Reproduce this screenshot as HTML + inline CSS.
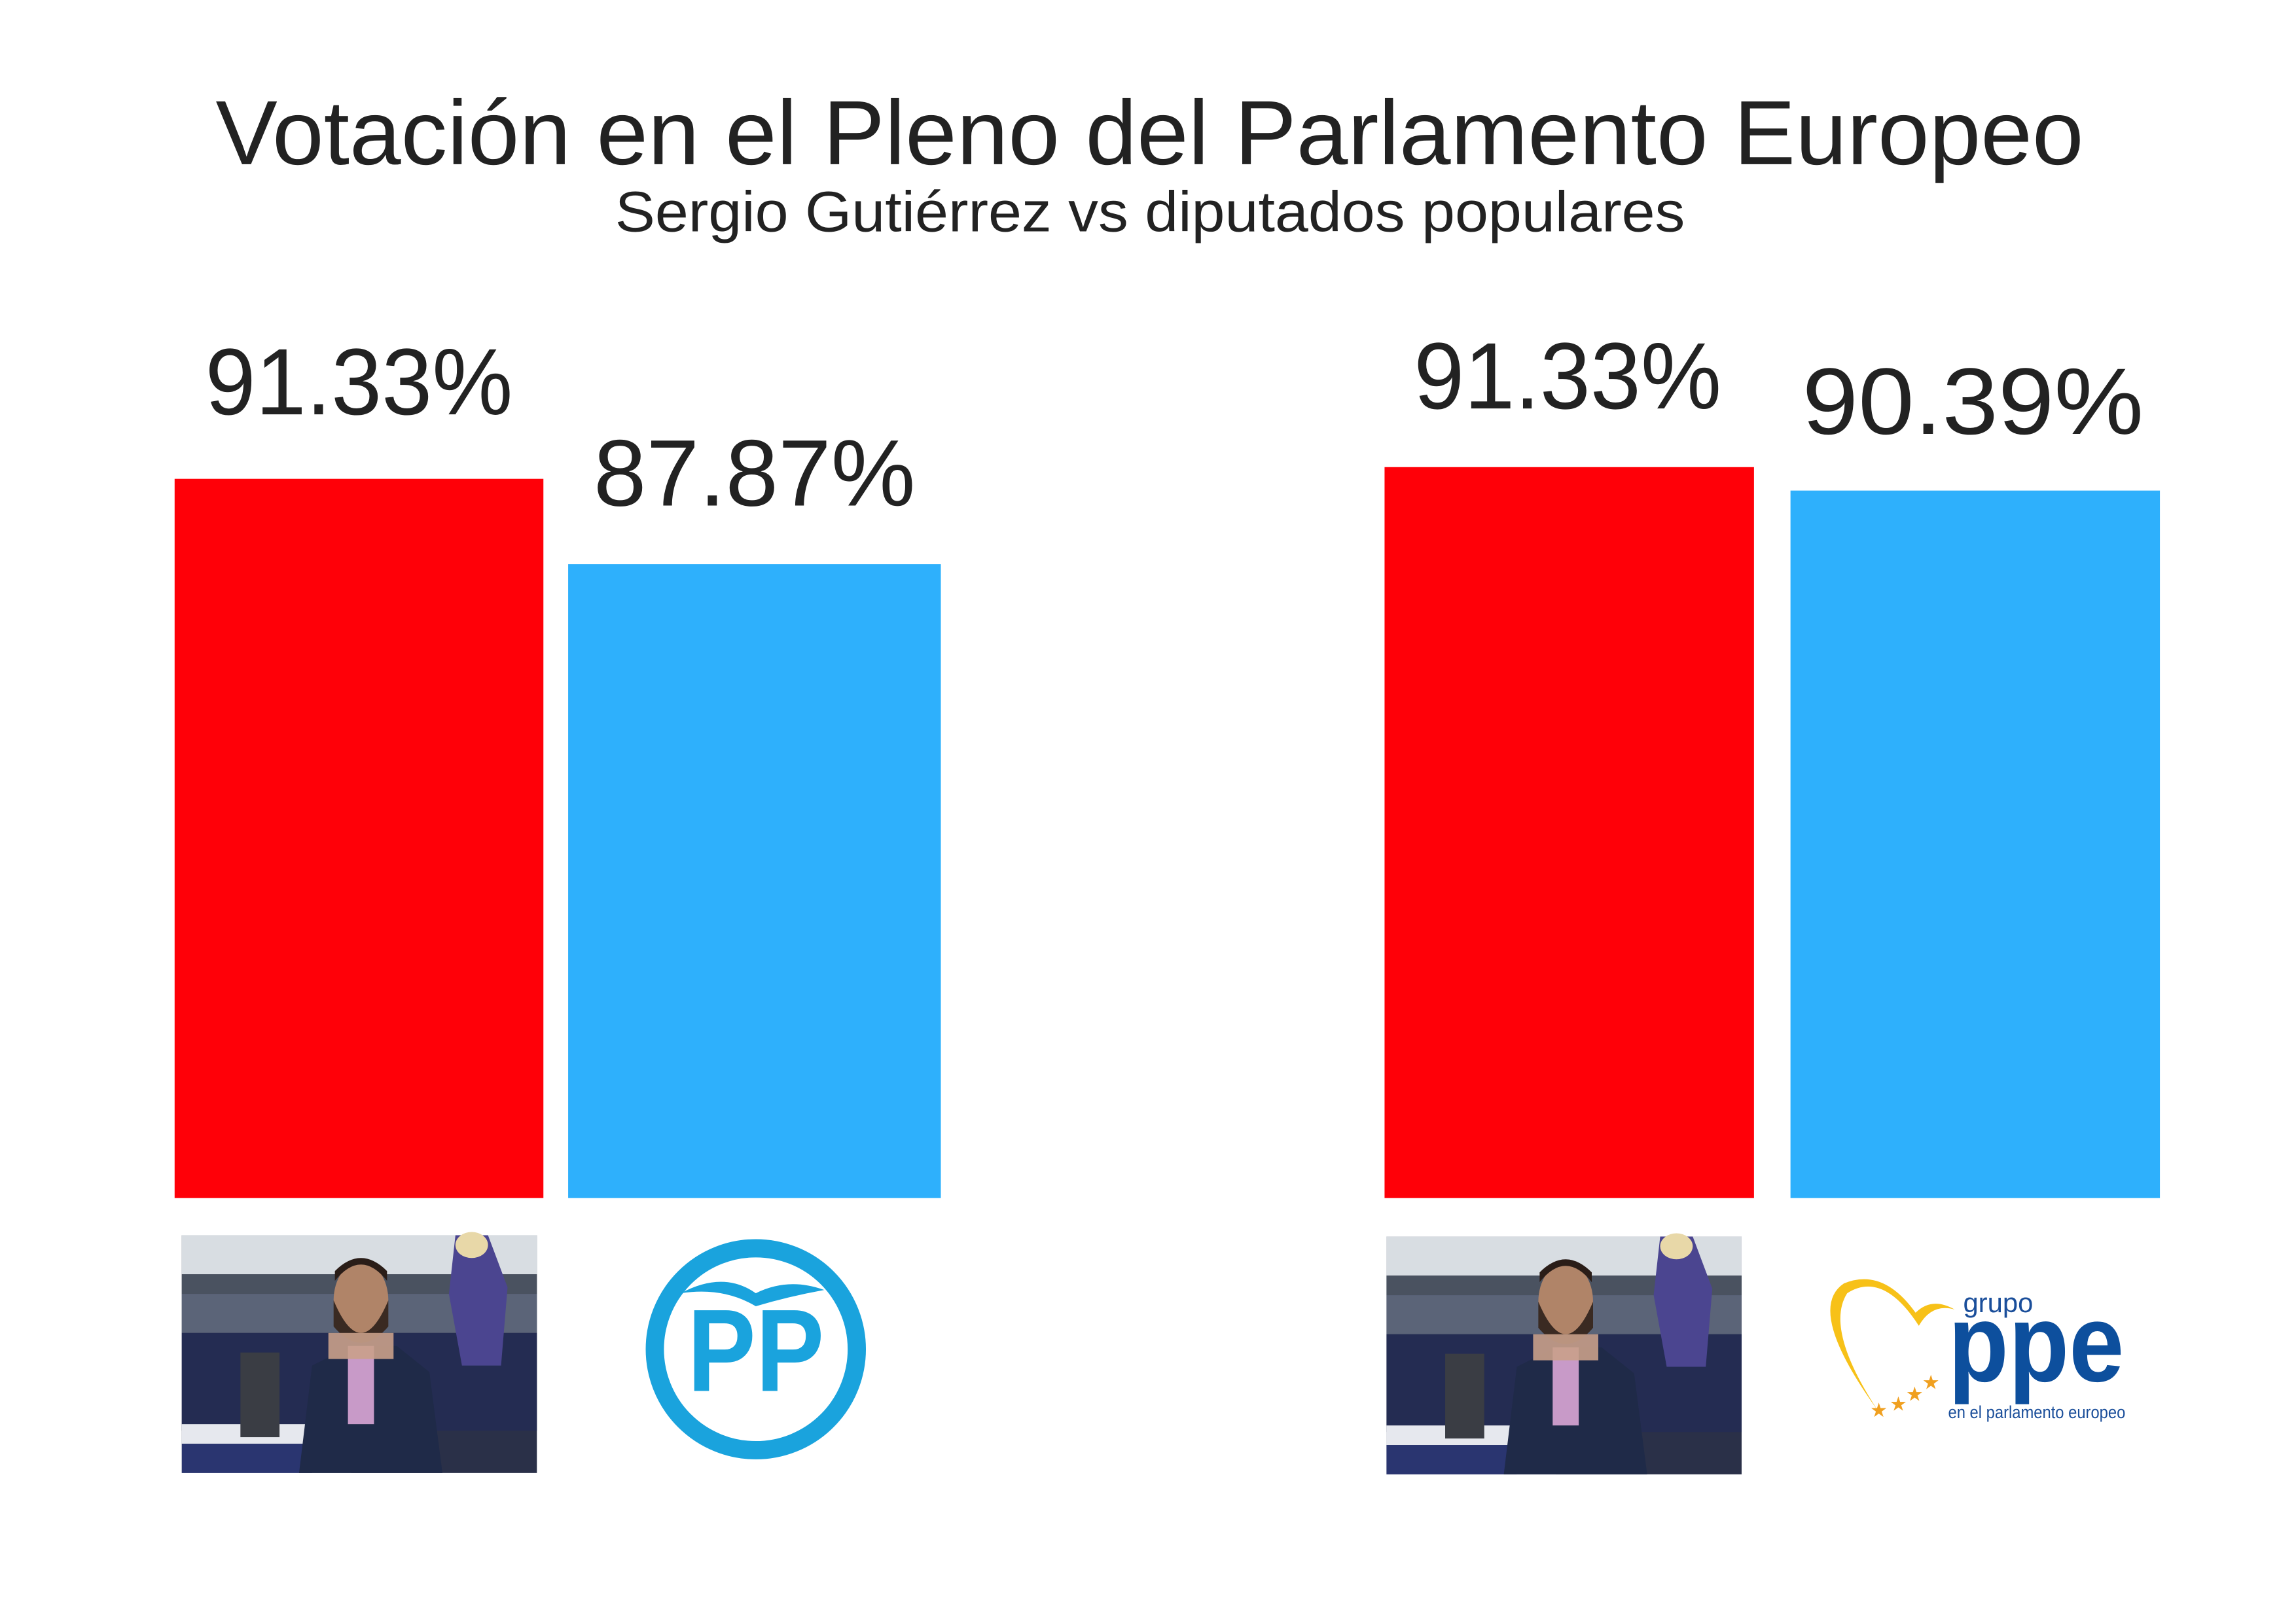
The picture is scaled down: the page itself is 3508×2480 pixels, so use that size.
<!DOCTYPE html>
<html><head><meta charset="utf-8"><style>
html,body{margin:0;padding:0;background:#fff}
svg{display:block}
</style></head><body>
<svg width="3508" height="2480" viewBox="0 0 3508 2480" xmlns="http://www.w3.org/2000/svg" font-family="Liberation Sans, sans-serif">
<rect width="3508" height="2480" fill="#fff"/>
<g transform="scale(0.9955)">
<text x="331" y="252" font-size="140" fill="#222" textLength="2867" lengthAdjust="spacingAndGlyphs">Votación en el Pleno del Parlamento Europeo</text>
<text x="944" y="355" font-size="88" fill="#222" textLength="1642" lengthAdjust="spacingAndGlyphs">Sergio Gutiérrez vs diputados populares</text>
<rect x="268" y="735" width="566" height="1104" fill="#ff0008"/>
<rect x="872" y="866" width="572" height="973" fill="#2eb0fc"/>
<rect x="2125" y="717" width="567" height="1122" fill="#ff0008"/>
<rect x="2748" y="753" width="567" height="1086" fill="#2eb0fc"/>
<g font-size="145" fill="#222">
<text x="315" y="636" textLength="472" lengthAdjust="spacingAndGlyphs">91.33%</text>
<text x="911" y="776" textLength="494" lengthAdjust="spacingAndGlyphs">87.87%</text>
<text x="2170" y="627" textLength="472" lengthAdjust="spacingAndGlyphs">91.33%</text>
<text x="2766" y="666" textLength="524" lengthAdjust="spacingAndGlyphs">90.39%</text>
</g>
<defs>
<g id="photo">
<rect x="0" y="0" width="545" height="365" fill="#2a3048"/>
<rect x="0" y="0" width="545" height="60" fill="#d8dde2"/>
<rect x="0" y="60" width="545" height="30" fill="#4a5260"/>
<rect x="0" y="90" width="545" height="60" fill="#5b6478"/>
<rect x="0" y="150" width="545" height="150" fill="#242c52"/>
<rect x="0" y="290" width="260" height="75" fill="#e6e8ee"/>
<rect x="0" y="320" width="200" height="45" fill="#2a3570"/>
<rect x="90" y="180" width="60" height="130" fill="#3a3d44"/>
<path d="M180 365 L200 200 L260 170 L330 170 L380 210 L400 365 Z" fill="#1f2a48"/>
<rect x="255" y="170" width="40" height="120" fill="#c89ac8"/>
<ellipse cx="275" cy="100" rx="42" ry="60" fill="#b08468"/>
<path d="M233 100 Q275 200 317 100 L317 140 Q275 190 233 140Z" fill="#3a2a22"/>
<path d="M235 70 Q275 20 315 70 L315 55 Q275 15 235 55Z" fill="#2a1d18"/>
<rect x="225" y="150" width="100" height="40" fill="#c9a08a" opacity="0.9"/>
<path d="M420 0 L470 0 L500 80 L490 200 L430 200 L410 90Z" fill="#4b4590"/>
<ellipse cx="445" cy="15" rx="25" ry="20" fill="#e8d8a8"/>
</g>
</defs>
<use href="#photo" x="279" y="1896"/>
<use href="#photo" x="2128" y="1898"/>
<circle cx="1160" cy="2071" r="155" fill="none" stroke="#1aa3dd" stroke-width="28"/>
<text x="1160" y="2135" font-size="180" font-weight="bold" fill="#1aa3dd" text-anchor="middle" textLength="210" lengthAdjust="spacingAndGlyphs">PP</text>
<path d="M1045 1985 Q1110 1950 1160 1985 Q1210 1960 1265 1980 Q1210 1990 1160 2005 Q1110 1975 1045 1985Z" fill="#1aa3dd"/>
<path d="M2882 2165 Q2770 2010 2830 1970 Q2890 1945 2940 2015 Q2965 1990 3000 2010 Q2965 2000 2945 2035 Q2890 1950 2835 1985 Q2800 2040 2882 2165Z" fill="#f7c118"/>
<g fill="#f0a020" font-size="30"><text x="2870" y="2175">★</text><text x="2900" y="2165">★</text><text x="2925" y="2150">★</text><text x="2950" y="2132">★</text></g>
<text x="3013" y="2014" font-size="42" fill="#1a4e9a">grupo</text>
<text x="2990" y="2120" font-size="170" font-weight="bold" fill="#0d4f9d" textLength="270" lengthAdjust="spacingAndGlyphs">ppe</text>
<text x="2990" y="2177" font-size="27" fill="#1a4e9a" textLength="272" lengthAdjust="spacingAndGlyphs">en el parlamento europeo</text>
</g>
</svg>
</body></html>
